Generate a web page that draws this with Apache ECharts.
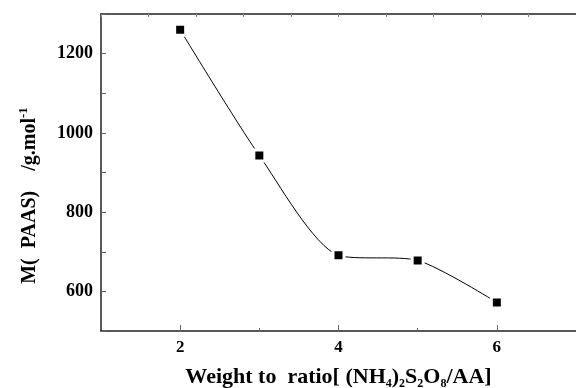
<!DOCTYPE html>
<html>
<head>
<meta charset="utf-8">
<script src="https://cdn.jsdelivr.net/npm/echarts@6/dist/echarts.min.js"></script>
<style>
  html, body { margin: 0; padding: 0; background: #fff; }
  #main { width: 576px; height: 388px; }
</style>
</head>
<body>
<div id="main"></div>
<script>
// weight ratio vs. molecular weight of PAAS
let ratios = [2, 3, 4, 5, 6];
let molWeight = [1260, 943, 691, 678, 572];
let xMajor = [2, 4, 6];
let xMinor = [3, 5];
let yLabels = [600, 800, 1000, 1200];

let myChart = echarts.init(document.getElementById('main'));
let serif = '"Liberation Serif", "Times New Roman", serif';

let option = {
  backgroundColor: '#fff',
  animation: false,
  grid: {
    left: 101,
    right: 0,
    top: 14,
    bottom: 57,
    outerBoundsMode: 'none'
  },
  xAxis: [
    {
      type: 'value',
      min: 1,
      max: 7,
      position: 'bottom',
      name: 'Weight to  ratio[ (NH{sub|4}){sub|2}S{sub|2}O{sub|8}/AA]',
      nameLocation: 'middle',
      nameGap: 33,
      nameTextStyle: {
        color: '#000',
        fontFamily: serif,
        fontWeight: 'bold',
        fontSize: 22,
        lineHeight: 26,
        rich: {
          sub: {
            fontFamily: serif,
            fontWeight: 'bold',
            fontSize: 12,
            lineHeight: 12,
            verticalAlign: 'bottom'
          }
        }
      },
      axisLine: { lineStyle: { color: '#222', width: 1.5 } },
      axisTick: { inside: true, length: 6, customValues: xMajor, lineStyle: { color: '#666' } },
      splitLine: { show: false },
      axisLabel: {
        margin: 8,
        customValues: xMajor,
        color: '#000',
        fontFamily: serif,
        fontWeight: 'bold',
        fontSize: 17
      }
    },
    {
      type: 'value',
      min: 0,
      max: 10,
      interval: 1,
      position: 'top',
      axisLine: { show: true, lineStyle: { color: '#222', width: 1.5 } },
      axisTick: { show: true, inside: true, length: 3, lineStyle: { color: '#888' } },
      axisLabel: { show: false },
      splitLine: { show: false }
    },
    {
      type: 'value',
      min: 1,
      max: 7,
      position: 'bottom',
      axisLine: { show: false },
      axisTick: { show: true, inside: true, length: 3, customValues: xMinor, lineStyle: { color: '#666' } },
      axisLabel: { show: false },
      splitLine: { show: false }
    }
  ],
  yAxis: {
    type: 'value',
    min: 500,
    max: 1300,
    interval: 100,
    name: 'M(  PAAS)    /g.mol{sup|-1}',
    nameLocation: 'middle',
    nameGap: 58,
    nameRotate: 90,
    nameTextStyle: {
      color: '#000',
      fontFamily: serif,
      fontWeight: 'bold',
      fontSize: 20,
      lineHeight: 26,
      padding: [0, 46, 0, 0],
      rich: {
        sup: {
          fontFamily: serif,
          fontWeight: 'bold',
          fontSize: 13,
          lineHeight: 13,
          verticalAlign: 'top'
        }
      }
    },
    axisLine: { show: true, lineStyle: { color: '#222', width: 1.5 } },
    axisTick: { inside: true, length: 5, lineStyle: { color: '#666' } },
    splitLine: { show: false },
    axisLabel: {
      margin: 8,
      customValues: yLabels,
      formatter: (v) => String(v),
      color: '#000',
      fontFamily: serif,
      fontWeight: 'bold',
      fontSize: 18
    }
  },
  series: [
    {
      type: 'line',
      data: ratios.map((r, i) => [r, molWeight[i]]),
      smooth: 0.25,
      symbol: 'rect',
      symbolSize: 11,
      showSymbol: true,
      lineStyle: { color: '#000', width: 1 },
      itemStyle: { color: '#000', borderColor: '#fff', borderWidth: 3 }
    }
  ]
};
myChart.setOption(option);
</script>
</body>
</html>
